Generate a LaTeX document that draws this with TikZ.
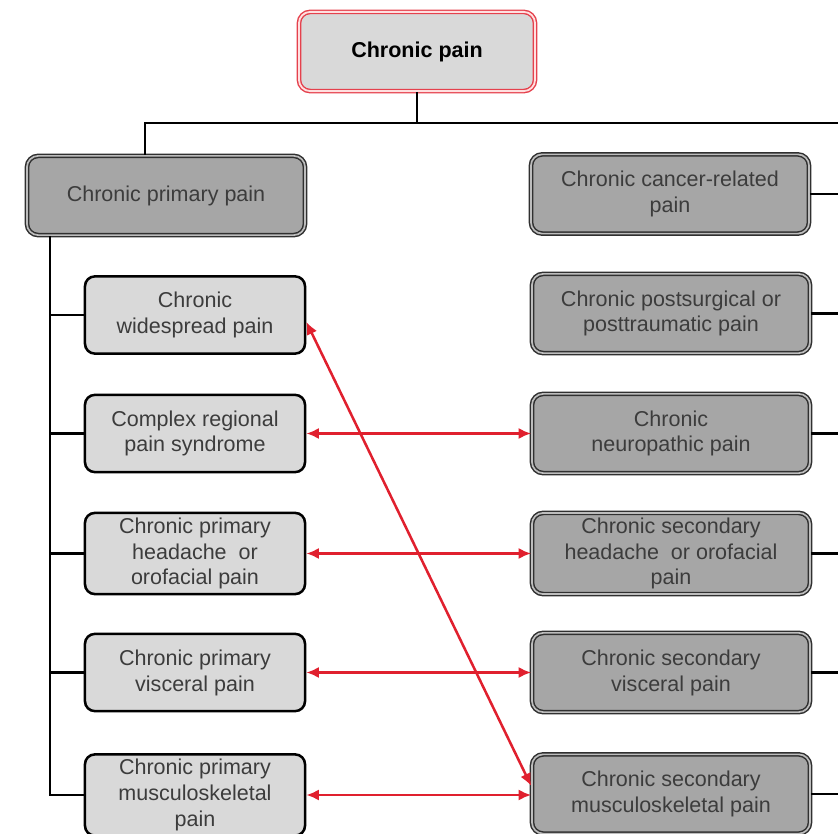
\documentclass[tikz,border=0pt]{standalone}
\usepackage{fontspec}
\setmainfont{Liberation Sans}
\usetikzlibrary{arrows.meta}

\definecolor{lightbox}{HTML}{D9D9D9}
\definecolor{darkbox}{HTML}{A6A6A6}
\definecolor{rim}{HTML}{303030}
\definecolor{rimgap}{HTML}{BDBDBD}
\definecolor{assocred}{HTML}{E0202E}
\definecolor{boxtext}{HTML}{3C3C3C}

\newcommand{\boxfont}{\fontsize{15.3}{18.4}\selectfont}

\tikzset{
  rootbox/.style={rectangle,rounded corners=8pt,fill=lightbox,draw=assocred!85,double=red!12,
    double distance=1.3pt,line width=1pt,minimum width=5.9cm,minimum height=1.98cm,
    font=\boxfont\bfseries,text=black},
  mainbox/.style={rectangle,rounded corners=8pt,fill=darkbox,draw=rim,double=rimgap,
    double distance=1.2pt,line width=1.05pt,minimum height=1.98cm,align=center,text=boxtext},
  subbox/.style={rectangle,rounded corners=7pt,fill=lightbox,draw=black,line width=1.8pt,
    minimum width=5.5cm,minimum height=1.93cm,align=center,text=boxtext},
  link/.style={line width=1.9pt,black},
  assoc/.style={line width=1.8pt,assocred,{Latex[length=9pt,width=8pt]}-{Latex[length=9pt,width=8pt]}}
}

\begin{document}
\begin{tikzpicture}[x=0.025cm,y=-0.025cm,font=\boxfont]
\clip (0,0) rectangle (838,834);

\node[rootbox] (root) at (417,51.5) {Chronic pain};
\node[mainbox,minimum width=6.95cm] (pp) at (166,195.5) {Chronic primary pain};

\node[subbox] (p1) at (195,315) {Chronic\\widespread pain};
\node[subbox] (p2) at (195,433.5) {Complex regional\\pain syndrome};
\node[subbox] (p3) at (195,553.5) {Chronic primary\\headache\ \ or\\orofacial pain};
\node[subbox] (p4) at (195,672.5) {Chronic primary\\visceral pain};
\node[subbox] (p5) at (195,795) {Chronic primary\\musculoskeletal\\pain};

\node[mainbox,minimum width=6.95cm] (s1) at (670,194) {Chronic cancer-related\\pain};
\node[mainbox,minimum width=6.95cm] (s2) at (671,313.5) {Chronic postsurgical or\\posttraumatic pain};
\node[mainbox,minimum width=6.95cm] (s3) at (671,433.5) {Chronic\\neuropathic pain};
\node[mainbox,minimum width=6.95cm] (s4) at (671,553.5) {Chronic secondary\\headache\ \ or orofacial\\pain};
\node[mainbox,minimum width=6.95cm] (s5) at (671,672.5) {Chronic secondary\\visceral pain};
\node[mainbox,minimum width=6.95cm] (s6) at (671,794) {Chronic secondary\\musculoskeletal pain};

\coordinate (jl) at (145,123);
\coordinate (jr) at (838,123);
\coordinate (spine) at (50,0);

% tree
\draw[link] (root.south) -- (root.south |- jl);
\draw[link] (jr) -- (jl) -- (jl |- pp.north);
\draw[link] (pp.south -| spine) |- (p5.west);
\draw[link] (p1.west -| spine) -- (p1.west);
\draw[link] (p2.west -| spine) -- (p2.west);
\draw[link] (p3.west -| spine) -- (p3.west);
\draw[link] (p4.west -| spine) -- (p4.west);
\draw[link] (s1.east) -- (s1.east -| jr);
\draw[link] (s2.east) -- (s2.east -| jr);
\draw[link] (s3.east) -- (s3.east -| jr);
\draw[link] (s4.east) -- (s4.east -| jr);
\draw[link] (s5.east) -- (s5.east -| jr);
\draw[link] (s6.east) -- (s6.east -| jr);

% primary <-> secondary
\draw[assoc] (p2.east) -- (s3.west);
\draw[assoc] (p3.east) -- (s4.west);
\draw[assoc] (p4.east) -- (s5.west);
\draw[assoc] (p5.east) -- (p5.east -| s6.west);
\draw[assoc] ([yshift=-0.17cm]p1.east) -- ([yshift=0.2cm]s6.west);
\end{tikzpicture}
\end{document}
